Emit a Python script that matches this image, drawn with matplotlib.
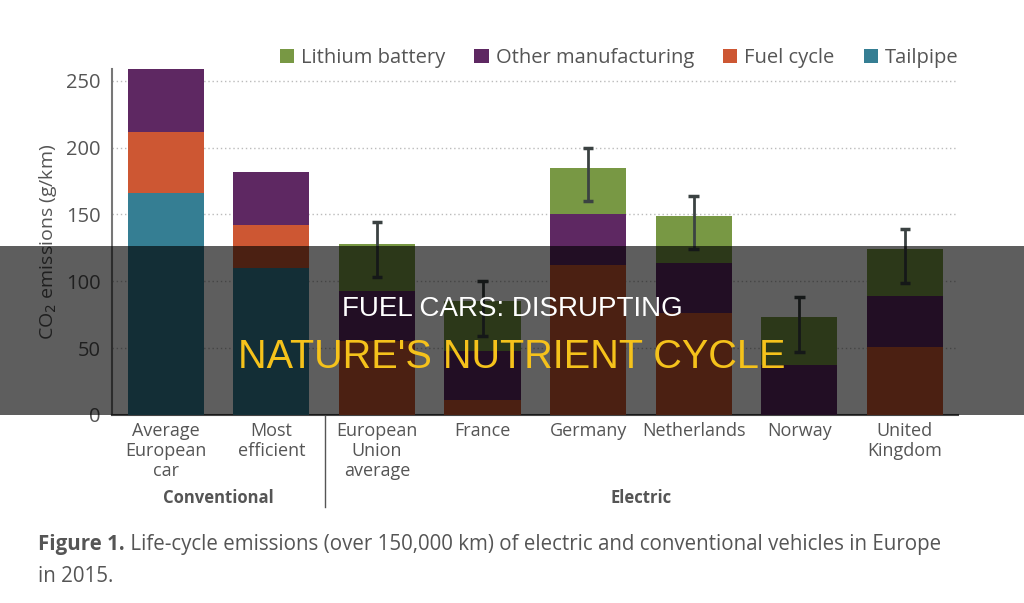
import matplotlib.pyplot as plt
from matplotlib.patches import Rectangle
from matplotlib.transforms import blended_transform_factory
import numpy as np

# data
categories = ["Average\nEuropean\ncar", "Most\nefficient", "European\nUnion\naverage",
              "France", "Germany", "Netherlands", "Norway", "United\nKingdom"]
tailpipe = [166, 110, 0, 0, 0, 0, 0, 0]
fuel_cycle = [46, 32, 55, 11, 112, 76, 0, 51]
other_manufacturing = [47, 40, 38, 37, 38, 38, 37, 38]
lithium_battery = [0, 0, 35, 37, 35, 35, 36, 35]
err_low = [None, None, 103, 59, 160, 124, 47, 99]
err_high = [None, None, 144, 100, 200, 164, 88, 139]
yticks = [0, 50, 100, 150, 200, 250]

# colours
c_battery = "#789844"
c_other = "#5e2862"
c_fuel = "#cd5733"
c_tail = "#357e93"
txt = "#555555"

plt.rcParams['font.family'] = ['Open Sans', 'DejaVu Sans']

fig = plt.figure(figsize=(10.24, 6.03), dpi=100)
ax = fig.add_axes([0.109, 0.312, 0.827, 0.574])

x = np.arange(len(categories))
w = 0.72
b1 = np.array(tailpipe)
b2 = b1 + np.array(fuel_cycle)
b3 = b2 + np.array(other_manufacturing)

ax.bar(x, tailpipe, w, color=c_tail, label="Tailpipe", zorder=3)
ax.bar(x, fuel_cycle, w, bottom=b1, color=c_fuel, label="Fuel cycle", zorder=3)
ax.bar(x, other_manufacturing, w, bottom=b2, color=c_other, label="Other manufacturing", zorder=3)
ax.bar(x, lithium_battery, w, bottom=b3, color=c_battery, label="Lithium battery", zorder=3)

# error bars for the electric cars
for i in range(len(categories)):
    if err_low[i] is None:
        continue
    ax.plot([i, i], [err_low[i], err_high[i]], color="#3b4242", lw=2, zorder=4,
            solid_capstyle='butt')
    for yy in (err_low[i], err_high[i]):
        ax.plot([i - 0.05, i + 0.05], [yy, yy], color="#3b4242", lw=2.5, zorder=4,
                solid_capstyle='butt')

ax.set_xlim(-0.512, 7.507)
ax.set_ylim(0, 259)
ax.set_yticks(yticks)
ax.set_xticks(x, categories)
ax.tick_params(axis='both', length=0, colors=txt)
ax.tick_params(axis='y', labelsize=14.5, pad=8)
ax.tick_params(axis='x', labelsize=13, pad=5)
for lab in ax.get_xticklabels():
    lab.set_linespacing(1.15)

ax.yaxis.grid(True, linestyle=(0, (1, 2)), color="#bbbbbb", lw=1, zorder=0)
ax.set_axisbelow(True)
for s in ("top", "right"):
    ax.spines[s].set_visible(False)
ax.spines["left"].set_color("#777777")
ax.spines["left"].set_linewidth(1.5)
ax.spines["bottom"].set_color("#444444")
ax.spines["bottom"].set_linewidth(1.5)

ax.set_ylabel("CO$_2$ emissions (g/km)", fontsize=14, color=txt, labelpad=5)

# legend in the order of the reference
h, l = ax.get_legend_handles_labels()
order = [3, 2, 1, 0]
ax.legend([h[i] for i in order], [l[i] for i in order], ncol=4, frameon=False,
          loc='center right', bbox_to_anchor=(1.0, 1.03), borderaxespad=0, borderpad=0,
          handlelength=0.7, handleheight=0.7, handletextpad=0.35, columnspacing=1.45,
          fontsize=14.5, labelcolor=txt)

# group labels and separator
tr = blended_transform_factory(ax.transData, ax.transAxes)
ax.plot([1.507, 1.507], [0, -0.266], color="#555555", lw=1, transform=tr, clip_on=False)
ax.text(0.5, -0.24, "Conventional", transform=tr, ha='center', va='center',
        fontsize=12, fontweight='bold', color=txt)
ax.text(4.5, -0.24, "Electric", transform=tr, ha='center', va='center',
        fontsize=12, fontweight='bold', color=txt)

# caption
t1 = fig.text(0.037, 1 - 550 / 603, "Figure 1.", fontsize=14.8, fontweight='bold',
              color=txt, va='baseline')
r = fig.canvas.get_renderer()
x1 = t1.get_window_extent(r).x1 / fig.bbox.width
fig.text(x1, 1 - 550 / 603,
         " Life-cycle emissions (over 150,000 km) of electric and conventional vehicles in Europe",
         fontsize=14.8, color=txt, va='baseline')
fig.text(0.037, 1 - 582 / 603, "in 2015.", fontsize=14.8, color=txt, va='baseline')

# dark banner with title on top
fig.add_artist(Rectangle((0, 0.311), 1, 0.281, transform=fig.transFigure,
                         facecolor='black', alpha=0.63, edgecolor='none', zorder=10))
fig.text(0.5, 1 - 309 / 603, "FUEL CARS: DISRUPTING", ha='center', va='center',
         fontsize=20, color='white', family='Liberation Sans', zorder=11)
fig.text(0.5, 1 - 357 / 603, "NATURE'S NUTRIENT CYCLE", ha='center', va='center',
         fontsize=28.5, color='#f5c21b', family='Liberation Sans', zorder=11)

fig.savefig("out.png", dpi=100)
